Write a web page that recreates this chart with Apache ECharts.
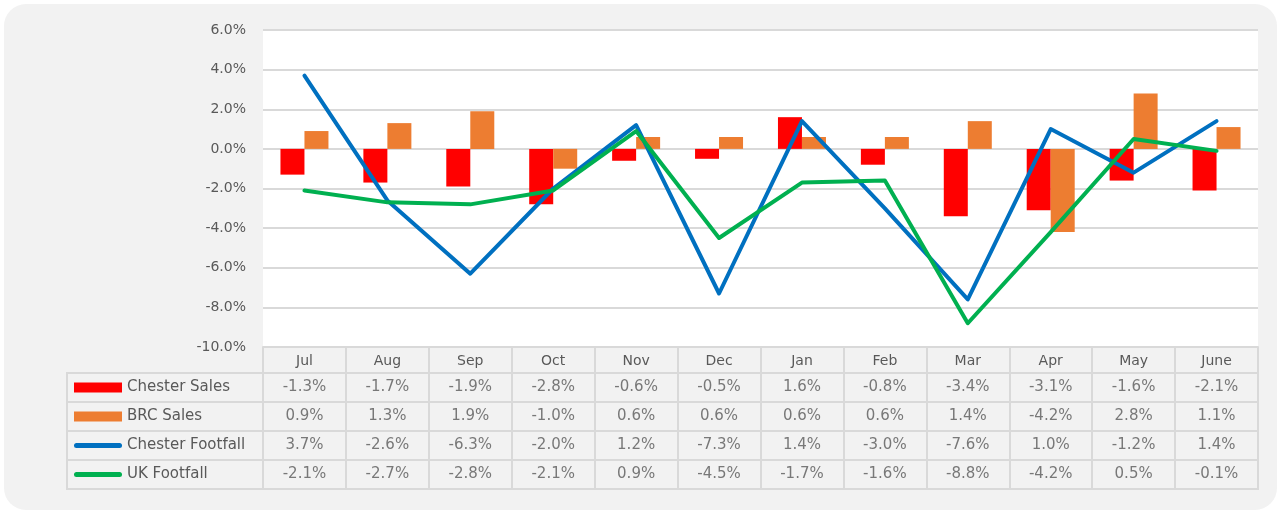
<!DOCTYPE html>
<html>
<head>
<meta charset="utf-8">
<script src="https://cdn.jsdelivr.net/npm/echarts@6/dist/echarts.min.js"></script>
<style>
  html, body { margin: 0; padding: 0; background: #fff; }
  #main { width: 1281px; height: 513px; }
</style>
</head>
<body>
<div id="main"></div>
<script>
// data
var months = ['Jul', 'Aug', 'Sep', 'Oct', 'Nov', 'Dec', 'Jan', 'Feb', 'Mar', 'Apr', 'May', 'June'];
var chesterSales = [-1.3, -1.7, -1.9, -2.8, -0.6, -0.5, 1.6, -0.8, -3.4, -3.1, -1.6, -2.1];
var brcSales = [0.9, 1.3, 1.9, -1.0, 0.6, 0.6, 0.6, 0.6, 1.4, -4.2, 2.8, 1.1];
var chesterFootfall = [3.7, -2.6, -6.3, -2.0, 1.2, -7.3, 1.4, -3.0, -7.6, 1.0, -1.2, 1.4];
var ukFootfall = [-2.1, -2.7, -2.8, -2.1, 0.9, -4.5, -1.7, -1.6, -8.8, -4.2, 0.5, -0.1];
var seriesNames = ['Chester Sales', 'BRC Sales', 'Chester Footfall', 'UK Footfall'];
var yMin = -10, yMax = 6, yStep = 2;

var FONT = 'DejaVu Sans';
var TXT = '#595959';
var LINE = '#d9d9d9';
var colors = ['#FF0000', '#ED7D31', '#0070C0', '#00B050'];

// thin line key for the legend (the M points keep the 48x10 box)
var lineIcon = 'path://M0,0 M48,10 M2.5,2.5 L45.5,2.5 A2.5,2.5 0 0 1 45.5,7.5 L2.5,7.5 A2.5,2.5 0 0 1 2.5,2.5 Z';

function pct(v) {
  return v.toFixed(1) + '%';
}

// table cells: [month, row, value]
var rows = [chesterSales, brcSales, chesterFootfall, ukFootfall];
var cells = [];
rows.forEach(function (arr, r) {
  arr.forEach(function (v, m) {
    cells.push([m, r, v]);
  });
});

var chart = echarts.init(document.getElementById('main'));

var option = {
  animation: false,
  backgroundColor: 'transparent',
  textStyle: { fontFamily: FONT },
  graphic: [{
    type: 'rect',
    z: -100,
    shape: { x: 4, y: 4, width: 1273, height: 506, r: 22 },
    style: { fill: '#f2f2f2' }
  }],
  legend: {
    orient: 'vertical',
    left: 74,
    top: 380,
    padding: 0,
    itemGap: 14,
    itemWidth: 48,
    itemHeight: 10,
    textStyle: { color: TXT, fontSize: 15, fontFamily: FONT, lineHeight: 15 },
    data: [
      { name: 'Chester Sales', icon: 'rect' },
      { name: 'BRC Sales', icon: 'rect' },
      { name: 'Chester Footfall', icon: lineIcon },
      { name: 'UK Footfall', icon: lineIcon }
    ]
  },
  grid: [
    // chart
    { left: 263, right: 23, top: 30, bottom: 166, show: true, backgroundColor: '#fff', borderWidth: 0 },
    // table values
    { left: 263, right: 23, top: 373, height: 116, show: true, backgroundColor: 'transparent', borderColor: LINE, borderWidth: 2 },
    // table row names
    { left: 67, width: 196, top: 373, height: 116, show: true, backgroundColor: 'transparent', borderColor: LINE, borderWidth: 2 }
  ],
  xAxis: [
    {
      gridIndex: 0,
      type: 'category',
      data: months,
      axisLine: { onZero: false, lineStyle: { color: LINE, width: 2 } },
      axisTick: { show: true, length: 26, lineStyle: { color: LINE, width: 2 } },
      axisLabel: { color: TXT, fontSize: 14, fontFamily: FONT, margin: 7 },
      splitLine: { show: false }
    },
    {
      gridIndex: 1,
      type: 'category',
      data: months,
      axisLine: { show: false },
      axisTick: { show: false },
      axisLabel: { show: false },
      splitLine: { show: true, interval: 0, lineStyle: { color: LINE, width: 2 } }
    },
    {
      gridIndex: 2,
      type: 'value',
      min: 0,
      max: 1,
      show: false
    }
  ],
  yAxis: [
    {
      gridIndex: 0,
      type: 'value',
      min: yMin,
      max: yMax,
      interval: yStep,
      axisLine: { show: false },
      axisTick: { show: false },
      axisLabel: { color: TXT, fontSize: 14, fontFamily: FONT, margin: 17, formatter: pct },
      splitLine: { show: true, lineStyle: { color: LINE, width: 2 } }
    },
    {
      gridIndex: 1,
      type: 'category',
      inverse: true,
      data: seriesNames,
      axisLine: { show: false },
      axisTick: { show: false },
      axisLabel: { show: false },
      splitLine: { show: true, interval: 0, lineStyle: { color: LINE, width: 2 } }
    },
    {
      gridIndex: 2,
      type: 'category',
      inverse: true,
      data: seriesNames,
      axisLine: { show: false },
      axisTick: { show: false },
      axisLabel: { show: false },
      splitLine: { show: true, interval: 0, lineStyle: { color: LINE, width: 2 } }
    }
  ],
  series: [
    {
      name: 'Chester Sales',
      type: 'bar',
      xAxisIndex: 0, yAxisIndex: 0,
      data: chesterSales,
      barWidth: 24,
      barGap: '0%',
      itemStyle: { color: colors[0] }
    },
    {
      name: 'BRC Sales',
      type: 'bar',
      xAxisIndex: 0, yAxisIndex: 0,
      data: brcSales,
      barWidth: 24,
      barGap: '0%',
      itemStyle: { color: colors[1] }
    },
    {
      name: 'Chester Footfall',
      type: 'line',
      xAxisIndex: 0, yAxisIndex: 0,
      data: chesterFootfall,
      symbol: 'none',
      z: 3,
      itemStyle: { color: colors[2] },
      lineStyle: { color: colors[2], width: 4, cap: 'round', join: 'round' }
    },
    {
      name: 'UK Footfall',
      type: 'line',
      xAxisIndex: 0, yAxisIndex: 0,
      data: ukFootfall,
      symbol: 'none',
      z: 4,
      itemStyle: { color: colors[3] },
      lineStyle: { color: colors[3], width: 4, cap: 'round', join: 'round' }
    },
    {
      name: 'table',
      type: 'scatter',
      xAxisIndex: 1, yAxisIndex: 1,
      data: cells,
      symbolSize: 0,
      silent: true,
      label: {
        show: true,
        position: 'inside',
        color: TXT,
        fontSize: 15,
        fontFamily: FONT,
        formatter: function (p) { return pct(p.value[2]); }
      }
    }
  ]
};

chart.setOption(option);
</script>
</body>
</html>
